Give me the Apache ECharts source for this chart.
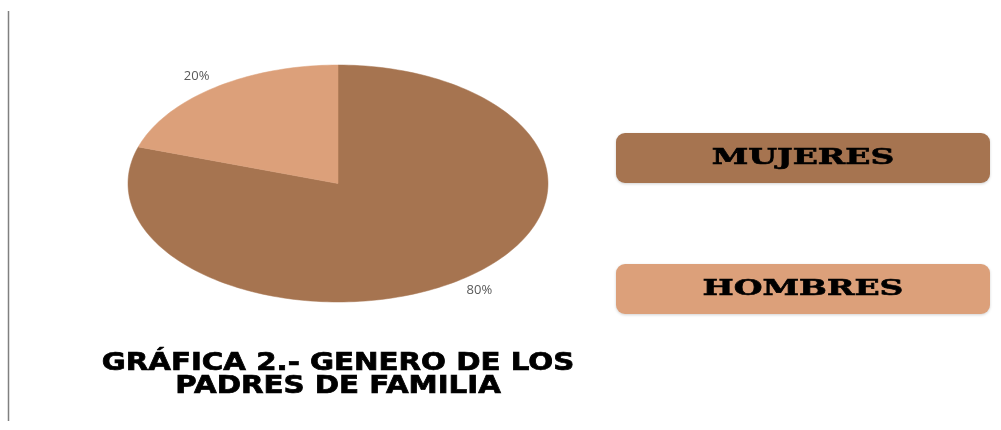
<!DOCTYPE html>
<html>
<head>
<meta charset="utf-8">
<script src="https://cdn.jsdelivr.net/npm/echarts@6/dist/echarts.min.js"></script>
<style>
  html, body { margin: 0; padding: 0; background: #ffffff; }
  #chart { width: 1001px; height: 430px; }
</style>
</head>
<body>
<div id="chart"></div>
<script>
// Chart data
const categories = ['MUJERES', 'HOMBRES'];
const shares = [80, 20];
const sliceColors = ['#A67450', '#DCA07A'];
const titleLines = ['GRÁFICA 2.- GENERO DE LOS', 'PADRES DE FAMILIA'];

const chart = echarts.init(document.getElementById('chart'));

// cumulative fractions: each slice runs clockwise from 12 o'clock
const total = shares.reduce((a, b) => a + b, 0);
let acc = 0;
const sliceData = shares.map((v, i) => {
  const start = acc / total;
  acc += v;
  return { value: [start, acc / total, v, i], name: categories[i] };
});

// elliptical pie drawn on a hidden [-1,1] x [-1,1] cartesian frame
function renderSlice(params, api) {
  const start = api.value(0);
  const end = api.value(1);
  const share = api.value(2);
  const idx = api.value(3);
  const steps = Math.max(12, Math.ceil((end - start) * 240));
  const pts = [api.coord([0, 0])];
  for (let k = 0; k <= steps; k++) {
    const t = start + (end - start) * k / steps;
    const a = Math.PI / 2 - t * Math.PI * 2;
    pts.push(api.coord([Math.cos(a), Math.sin(a)]));
  }
  // label just outside the rim at the slice's mid angle
  const mid = Math.PI / 2 - (start + end) / 2 * Math.PI * 2;
  const edge = api.coord([Math.cos(mid), Math.sin(mid)]);
  const dx = Math.cos(mid), dy = -Math.sin(mid);
  const gap = 5, halfW = 15, halfH = 7;
  const lx = edge[0] + dx * gap + Math.sign(dx) * halfW;
  const ly = edge[1] + dy * gap + Math.sign(dy) * halfH;
  return {
    type: 'group',
    children: [
      {
        type: 'polygon',
        shape: { points: pts },
        style: { fill: sliceColors[idx], stroke: sliceColors[idx], lineWidth: 0.5 }
      },
      {
        type: 'text',
        x: lx,
        y: ly,
        style: {
          text: share + '%',
          fill: '#595959',
          font: '13px "Open Sans"',
          align: 'center',
          verticalAlign: 'middle'
        }
      }
    ]
  };
}

// legend boxes built from the categories
const legendBoxes = [];
categories.forEach((name, i) => {
  const top = 133 + i * 131;
  legendBoxes.push({
    type: 'rect',
    left: 616,
    top: top,
    shape: { width: 374, height: 50, r: 9 },
    style: {
      fill: sliceColors[i],
      shadowBlur: 3,
      shadowColor: 'rgba(0,0,0,0.18)',
      shadowOffsetY: 1
    }
  });
  legendBoxes.push({
    type: 'text',
    x: 803,
    y: top + 25,
    scaleX: 1.5,
    style: {
      text: name,
      fill: '#000000',
      stroke: '#000000',
      lineWidth: 0.6,
      font: 'bold 22px "DejaVu Serif"',
      align: 'center',
      verticalAlign: 'middle'
    }
  });
});

// two-line caption under the pie, centred on it
const titleTexts = titleLines.map((line, i) => ({
  type: 'text',
  x: 338,
  y: 364 + i * 23,
  scaleX: 1.22,
  style: {
    text: line,
    fill: '#000000',
    stroke: '#000000',
    lineWidth: 0.7,
    font: 'bold 24px "DejaVu Sans"',
    align: 'center',
    verticalAlign: 'middle'
  }
}));

chart.setOption({
  backgroundColor: '#ffffff',
  animation: false,
  grid: { left: 128, top: 65, width: 420, height: 237 },
  xAxis: { type: 'value', min: -1, max: 1, show: false },
  yAxis: { type: 'value', min: -1, max: 1, show: false },
  graphic: [
    {
      type: 'line',
      shape: { x1: 8.5, y1: 11, x2: 8.5, y2: 421 },
      style: { stroke: '#808080', lineWidth: 1.5 }
    }
  ].concat(legendBoxes, titleTexts),
  series: [
    {
      type: 'custom',
      renderItem: renderSlice,
      data: sliceData,
      clip: false
    }
  ]
});
</script>
</body>
</html>
